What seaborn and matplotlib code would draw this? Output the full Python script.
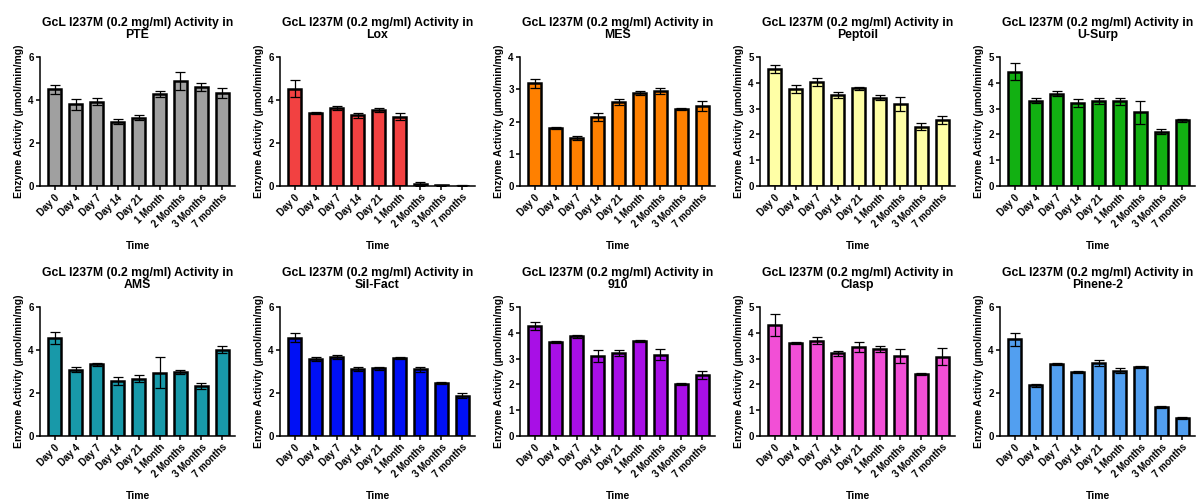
import numpy as np
import pandas as pd
import matplotlib
matplotlib.use("Agg")
import matplotlib.pyplot as plt
import seaborn as sns

sns.set_theme(style="ticks")
plt.rcParams['font.family'] = ['Liberation Sans', 'DejaVu Sans']
plt.rcParams['font.weight'] = 'bold'
plt.rcParams['text.color'] = 'black'
plt.rcParams['axes.labelcolor'] = 'black'
plt.rcParams['xtick.color'] = 'black'
plt.rcParams['ytick.color'] = 'black'

time_labels = ["Day 0", "Day 4", "Day 7", "Day 14", "Day 21", "1 Month", "2 Months", "3 Months", "7 months"]

solvents = ["PTE", "Lox", "MES", "Peptoil", "U-Surp", "AMS", "Sil-Fact", "910", "Clasp", "Pinene-2"]

pte_mean = [4.50, 3.80, 3.93, 3.00, 3.18, 4.28, 4.90, 4.60, 4.33]
pte_err = [0.20, 0.25, 0.15, 0.12, 0.10, 0.12, 0.42, 0.20, 0.25]
lox_mean = [4.52, 3.38, 3.63, 3.28, 3.55, 3.22, 0.10, 0.03, 0.02]
lox_err = [0.40, 0.05, 0.08, 0.13, 0.10, 0.17, 0.08, 0.02, 0.01]
mes_mean = [3.18, 1.80, 1.50, 2.15, 2.60, 2.88, 2.95, 2.38, 2.48]
mes_err = [0.13, 0.04, 0.06, 0.12, 0.09, 0.06, 0.09, 0.03, 0.15]
peptoil_mean = [4.53, 3.75, 4.02, 3.52, 3.78, 3.42, 3.18, 2.30, 2.55]
peptoil_err = [0.15, 0.15, 0.15, 0.12, 0.05, 0.10, 0.27, 0.13, 0.16]
usurp_mean = [4.42, 3.30, 3.57, 3.23, 3.30, 3.28, 2.85, 2.10, 2.55]
usurp_err = [0.33, 0.10, 0.10, 0.15, 0.13, 0.14, 0.45, 0.10, 0.06]
ams_mean = [4.57, 3.08, 3.33, 2.57, 2.67, 2.95, 2.98, 2.33, 4.02]
ams_err = [0.27, 0.12, 0.06, 0.18, 0.17, 0.72, 0.10, 0.15, 0.17]
silfact_mean = [4.58, 3.58, 3.67, 3.12, 3.15, 3.63, 3.10, 2.47, 1.88]
silfact_err = [0.23, 0.08, 0.10, 0.08, 0.07, 0.03, 0.12, 0.05, 0.10]
s910_mean = [4.25, 3.63, 3.86, 3.10, 3.22, 3.67, 3.15, 2.02, 2.37]
s910_err = [0.15, 0.04, 0.07, 0.23, 0.13, 0.04, 0.21, 0.05, 0.15]
clasp_mean = [4.30, 3.62, 3.70, 3.20, 3.45, 3.37, 3.10, 2.40, 3.08]
clasp_err = [0.42, 0.04, 0.12, 0.08, 0.18, 0.12, 0.28, 0.04, 0.33]
pinene_mean = [4.50, 2.35, 3.35, 2.97, 3.40, 3.03, 3.20, 1.35, 0.85]
pinene_err = [0.30, 0.05, 0.03, 0.04, 0.13, 0.12, 0.05, 0.05, 0.04]

means = [pte_mean, lox_mean, mes_mean, peptoil_mean, usurp_mean,
         ams_mean, silfact_mean, s910_mean, clasp_mean, pinene_mean]
errs = [pte_err, lox_err, mes_err, peptoil_err, usurp_err,
        ams_err, silfact_err, s910_err, clasp_err, pinene_err]
ymaxes = [6, 6, 4, 5, 5, 6, 6, 5, 5, 6]
colors = ["#A0A0A0", "#F24141", "#FF8000", "#FFFFA6", "#12B012",
          "#1899A9", "#0010F5", "#A80FE6", "#F24FD6", "#529FF0"]

W, H = 1197, 500
fig = plt.figure(figsize=(W / 100, H / 100), dpi=100)

for i, name in enumerate(solvents):
    row, col = divmod(i, 5)
    left = (40 + 240 * col) / W
    top_px = 57 + 250 * row
    bot_px = 186 + 250 * row
    ax = fig.add_axes([left, 1 - bot_px / H, 195 / W, (bot_px - top_px) / H])
    df = pd.DataFrame({"Time": time_labels, "Activity": means[i], "Err": errs[i]})
    sns.barplot(data=df, x="Time", y="Activity", ax=ax, color=colors[i],
                saturation=1, width=0.6, errorbar=None,
                edgecolor="black", linewidth=1.8)
    ax.errorbar(np.arange(len(time_labels)), df["Activity"], yerr=df["Err"],
                fmt="none", ecolor="black", elinewidth=0.9, capsize=3.6, capthick=0.9)
    ax.set_xlim(-0.7, 8.6)
    ax.set_ylim(0, ymaxes[i])
    ax.set_yticks(range(0, ymaxes[i] + 1, 1 if ymaxes[i] <= 5 else 2))
    for s in ["top", "right"]:
        ax.spines[s].set_visible(False)
    for s in ["left", "bottom"]:
        ax.spines[s].set_linewidth(1.1)
        ax.spines[s].set_color("black")
    ax.tick_params(axis="both", length=3, width=1.1, labelsize=7, pad=1.5, colors="black")
    ax.set_xticks(range(len(time_labels)))
    ax.set_xticklabels(time_labels, rotation=45, ha="right", rotation_mode="anchor",
                       fontweight="bold")
    for lab in ax.get_yticklabels():
        lab.set_fontweight("bold")
    ax.set_xlabel("Time", fontsize=7.5, fontweight="bold", labelpad=8)
    ax.set_ylabel("Enzyme Activity (µmol/min/mg)", fontsize=7.5, fontweight="bold", labelpad=3)
    ax.set_title(f"GcL I237M (0.2 mg/ml) Activity in\n{name}", fontsize=8.8,
                 fontweight="bold", pad=14, linespacing=1.0, color="black")

fig.savefig("out.png", dpi=100)
